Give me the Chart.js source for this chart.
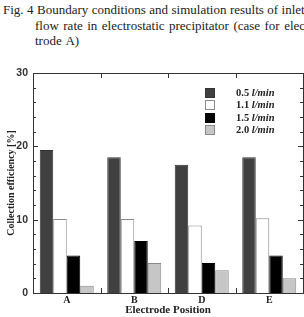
<!DOCTYPE html>
<html><head><meta charset="utf-8">
<script src="https://cdn.jsdelivr.net/npm/chart.js@4/dist/chart.umd.min.js"></script>
<style>
html,body{margin:0;padding:0;background:#fff;}
#wrap{position:relative;width:304px;height:317px;overflow:hidden;}
#cap{position:absolute;left:3px;top:2px;font-family:"Liberation Serif",serif;font-size:13px;line-height:15.5px;color:#222;white-space:nowrap;word-spacing:1.2px;}
#cap .l1{word-spacing:0.2px;}
#cap .ind{padding-left:32px;}
#legend{position:absolute;left:205px;top:87px;width:99px;font-family:"Liberation Serif",serif;font-size:10.5px;font-weight:bold;color:#222;}
#legend .row{position:relative;height:12.4px;}
#legend .box{position:absolute;left:0;top:1px;width:10px;height:10px;border:1px solid #888;box-sizing:border-box;}
#legend .txt{position:absolute;left:31px;top:0;line-height:12px;white-space:nowrap;}
canvas{position:absolute;left:0;top:0;}
</style></head>
<body><div id="wrap">
<div id="cap"><div class="l1">Fig. 4 Boundary conditions and simulation results of inlet</div><div class="ind">flow rate in electrostatic precipitator (case for elec-</div><div class="ind">trode A)</div></div>
<canvas id="c" width="304" height="317"></canvas>
<div id="legend"></div>
</div>
<script>
const categories = ['A','B','D','E'];
const seriesLabels = ['0.5 l/min','1.1 l/min','1.5 l/min','2.0 l/min'];
const s05 = [19.5, 18.5, 17.5, 18.5];
const s11 = [10.1, 10.1, 9.2, 10.2];
const s15 = [5.1, 7.1, 4.1, 5.1];
const s20 = [1.0, 4.1, 3.1, 2.0];
const yTicks = [0, 10, 20, 30];

const fills = ['#404040','#ffffff','#000000','#c6c6c6'];
const borders = ['#333333','#8a8a8a','#000000','#8a8a8a'];
const seriesData = [s05, s11, s15, s20];

const lg = document.getElementById('legend');
seriesLabels.forEach((l,i)=>{
  const parts = l.split(' ');
  const r = document.createElement('div'); r.className='row';
  r.innerHTML = '<span class="box" style="background:'+fills[i]+';border-color:'+borders[i]+'"></span><span class="txt">'+parts[0]+' <i>'+parts[1]+'</i></span>';
  lg.appendChild(r);
});

const framePlugin = {
  id:'frame',
  afterDraw(chart){
    const {ctx, chartArea:a, scales:{x,y}} = chart;
    ctx.save();
    ctx.strokeStyle='#333'; ctx.lineWidth=1;
    ctx.strokeRect(Math.round(a.left)+0.5, Math.round(a.top)+0.5, Math.round(a.right-a.left), Math.round(a.bottom-a.top));
    ctx.beginPath();
    for(let v=0; v<=30; v+=2){
      const py = Math.round(y.getPixelForValue(v))+0.5;
      const len = (v%10===0)?5:3;
      ctx.moveTo(a.left, py); ctx.lineTo(a.left+len, py);
      ctx.moveTo(a.right, py); ctx.lineTo(a.right-len, py);
    }
    for(let i=1;i<categories.length;i++){
      const px = Math.round((x.getPixelForValue(i-1)+x.getPixelForValue(i))/2)+0.5;
      ctx.moveTo(px, a.top); ctx.lineTo(px, a.top+5);
      ctx.moveTo(px, a.bottom); ctx.lineTo(px, a.bottom-5);
    }
    ctx.stroke();
    ctx.restore();
  }
};

new Chart(document.getElementById('c'), {
  type:'bar',
  data:{
    labels:categories,
    datasets: seriesData.map((d,i)=>({label:seriesLabels[i], data:d, backgroundColor:fills[i], borderColor:borders[i], borderWidth:1}))
  },
  options:{
    responsive:false, animation:false,
    layout:{padding:{left:0,right:1,top:73,bottom:0}},
    plugins:{legend:{display:false}, tooltip:{enabled:false}},
    datasets:{bar:{categoryPercentage:0.8, barPercentage:1.0}},
    scales:{
      x:{
        grid:{display:false, drawTicks:false, tickLength:0}, border:{display:false},
        ticks:{color:'#222', font:{family:'Liberation Serif', size:10, weight:'bold'}, padding:1},
        title:{display:true, text:'Electrode Position', color:'#222', font:{family:'Liberation Serif', size:11, weight:'bold'}, padding:{top:0,bottom:0}},
        afterFit(s){ s.height = 24; }
      },
      y:{
        min:0, max:30,
        grid:{display:false, drawTicks:false, tickLength:0}, border:{display:false},
        afterBuildTicks(s){ s.ticks = yTicks.map(v=>({value:v})); },
        ticks:{color:'#333', font:{family:'Liberation Sans', size:10.5, weight:'bold'}, padding:5},
        title:{display:true, text:'Collection efficiency [%]', color:'#222', font:{family:'Liberation Serif', size:10, weight:'bold'}, padding:{top:5,bottom:0}},
        afterFit(s){ s.width = 33; }
      }
    }
  },
  plugins:[framePlugin]
});
</script>
</body></html>
